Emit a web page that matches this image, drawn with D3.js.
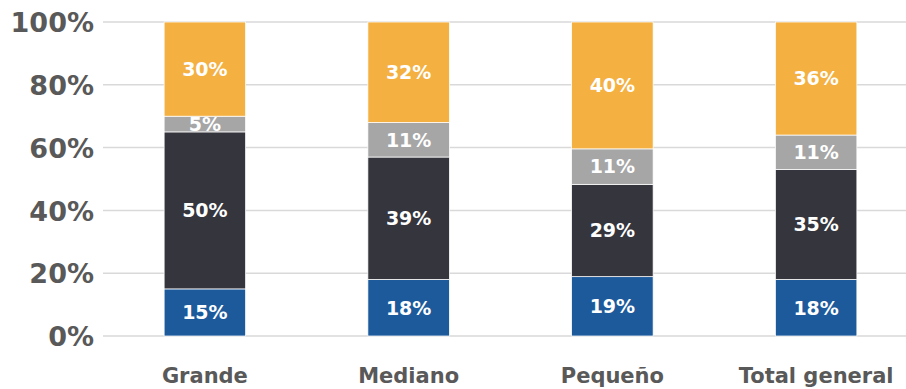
<!DOCTYPE html>
<html>
<head>
<meta charset="utf-8">
<script src="https://cdn.jsdelivr.net/npm/d3@7"></script>
<style>
  html, body { margin: 0; padding: 0; background: #fff; }
  svg { display: block; }
</style>
</head>
<body>
<svg id="chart" width="906" height="389"></svg>
<script>
// Company size categories
const categories = ["Grande", "Mediano", "Pequeño", "Total general"];
// Share of each segment per category (percent), bottom to top
const seriesNames = ["s1", "s2", "s3", "s4"];
const s1 = [15, 18, 18.9, 18];
const s2 = [50, 39, 29.4, 35];
const s3 = [5, 11, 11.3, 11];
const s4 = [30, 32, 40.4, 36];
const yTicks = [0, 20, 40, 60, 80, 100];

const colors = ["#1C5A9C", "#35353D", "#A6A6A6", "#F4B041"];
const font = "'DejaVu Sans', sans-serif";

const svg = d3.select("#chart");
const rows = categories.map((c, i) => ({ cat: c, s1: s1[i], s2: s2[i], s3: s3[i], s4: s4[i] }));
const stacked = d3.stack().keys(seriesNames)(rows);

const x = d3.scaleBand().domain(categories).range([103, 918]).paddingInner(0.6).paddingOuter(0.3);
const y = d3.scaleLinear().domain([0, 100]).range([336, 22]);

// Horizontal gridlines
svg.append("g").selectAll("line").data(yTicks).join("line")
  .attr("x1", 103).attr("x2", 906)
  .attr("y1", d => y(d)).attr("y2", d => y(d))
  .attr("stroke", "#D9D9D9").attr("stroke-width", 1.5);

// Y axis labels
const yAxis = svg.append("g").attr("transform", "translate(94,0)")
  .call(d3.axisLeft(y).tickValues(yTicks).tickFormat(d => d + "%").tickSize(0).tickPadding(0));
yAxis.select(".domain").remove();
yAxis.selectAll("text")
  .attr("font-family", font).attr("font-weight", "bold").attr("font-size", 27)
  .attr("fill", "#595959").attr("dy", "0.36em");

// X axis labels
const xAxis = svg.append("g").attr("transform", "translate(0,375)")
  .call(d3.axisBottom(x).tickSize(0).tickPadding(0));
xAxis.select(".domain").remove();
xAxis.selectAll("text")
  .attr("font-family", font).attr("font-weight", "bold").attr("font-size", 21)
  .attr("fill", "#595959").attr("dy", "0.36em");

// Stacked bars
const layers = svg.append("g").selectAll("g").data(stacked).join("g")
  .attr("fill", (d, i) => colors[i]);
layers.selectAll("rect").data(d => d).join("rect")
  .attr("x", d => x(d.data.cat))
  .attr("width", x.bandwidth())
  .attr("y", d => y(d[1]))
  .attr("height", d => y(d[0]) - y(d[1]))
  .attr("stroke", "#ffffff").attr("stroke-width", 0.75);

// Value labels
const labels = svg.append("g").selectAll("g").data(stacked).join("g");
labels.selectAll("text").data(d => d).join("text")
  .attr("x", d => x(d.data.cat) + x.bandwidth() / 2)
  .attr("y", d => (y(d[0]) + y(d[1])) / 2)
  .attr("dy", "0.36em")
  .attr("text-anchor", "middle")
  .attr("font-family", font).attr("font-weight", "bold").attr("font-size", 19)
  .attr("fill", "#ffffff")
  .text(d => Math.round(d[1] - d[0]) + "%");
</script>
</body>
</html>
